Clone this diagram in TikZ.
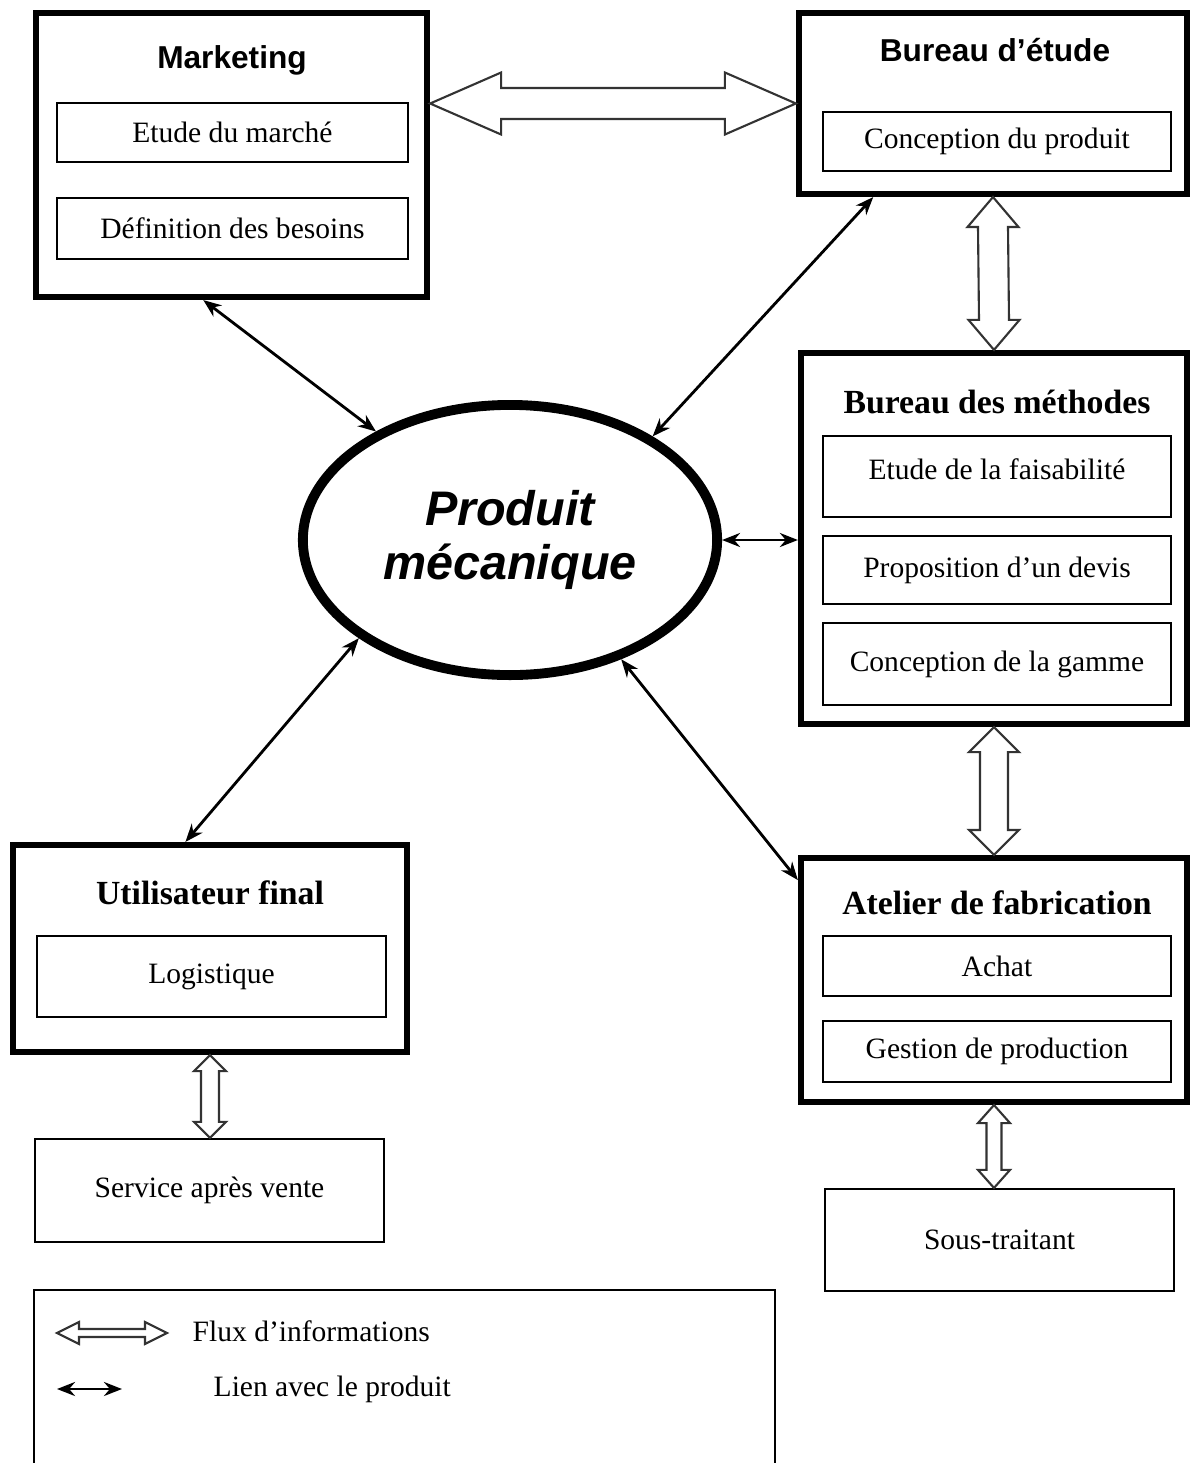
\documentclass[tikz,border=0pt]{standalone}
\usepackage{fontspec}
\setmainfont{Liberation Serif}
\newfontfamily\arialfont{Liberation Sans}
\usepackage{tikz}
\usetikzlibrary{calc}
\usetikzlibrary{arrows.meta}
\usetikzlibrary{shapes.geometric}

\newcommand{\fluxh}[5]{\draw[flux] #1 -- ++(#5,-#4) -- ++(0,#4-#3) -- ($#2+(-#5,-#3)$) -- ++(0,#3-#4) -- #2 -- ++(-#5,#4) -- ++(0,#3-#4) -- ($#1+(#5,#3)$) -- ++(0,#4-#3) -- cycle;}
\newcommand{\fluxv}[5]{\draw[flux] #1 -- ++(-#4,#5) -- ++(#4-#3,0) -- ($#2+(-#3,-#5)$) -- ++(#3-#4,0) -- #2 -- ++(#4,-#5) -- ++(#3-#4,0) -- ($#1+(#3,#5)$) -- ++(#4-#3,0) -- cycle;}

\begin{document}
\begin{tikzpicture}[x=0.01cm, y=-0.01cm,
  service/.style={draw, line width=1.7pt, inner sep=0pt},
  tache/.style={draw, line width=0.6pt, inner sep=0pt, minimum width=3.48cm, font=\fontsize{8.4}{10}\selectfont},
  titre/.style={font=\arialfont\bfseries\fontsize{9}{11}\selectfont},
  titreb/.style={font=\bfseries\fontsize{9.6}{11}\selectfont},
  legende/.style={anchor=west, inner sep=0pt, font=\fontsize{8.4}{10}\selectfont},
  lien/.style={{Stealth[length=1.8mm,width=1.4mm]}-{Stealth[length=1.8mm,width=1.4mm]}, line width=0.8pt},
  flux/.style={draw=black!80, line width=0.6pt, fill=white}]

\useasboundingbox (0,0) rectangle (1192,1463);

\node[service, minimum width=3.91cm, minimum height=2.84cm] (mkt) at (231.5,155) {};
\node[titre] (mkt-t) at (232,60) {Marketing};
\node[tache, minimum width=3.51cm, minimum height=0.59cm] (mkt1) at (232.5,132.5) {Etude du marché};
\node[tache, minimum width=3.51cm, minimum height=0.61cm] (mkt2) at (232.5,228.5) {Définition des besoins};

\node[service, minimum width=3.88cm, minimum height=1.81cm] (be) at (993,103.5) {};
\node[titre] (be-t) at (995,50) {Bureau d’étude};
\node[tache, minimum height=0.59cm] (be1) at (997,141.5) {Conception du produit};

\node[service, minimum width=3.86cm, minimum height=3.71cm] (bm) at (994,538.5) {};
\node[titreb] (bm-t) at (997,402) {Bureau des méthodes};
\node[tache, minimum height=0.81cm, text depth=4.2pt] (bm1) at (997,476.5) {Etude de la faisabilité};
\node[tache, minimum height=0.68cm] (bm2) at (997,570) {Proposition d’un devis};
\node[tache, minimum height=0.82cm] (bm3) at (997,664) {Conception de la gamme};

\node[service, minimum width=3.86cm, minimum height=2.44cm] (atl) at (994,980) {};
\node[titreb] (atl-t) at (997,903) {Atelier de fabrication};
\node[tache, minimum height=0.60cm] (atl1) at (997,966) {Achat};
\node[tache, minimum height=0.61cm] (atl2) at (997,1051.5) {Gestion de production};
\node[tache, minimum width=3.49cm, minimum height=1.02cm] (sous) at (999.5,1240) {Sous-traitant};

\node[service, minimum width=3.94cm, minimum height=2.07cm] (util) at (210,948.5) {};
\node[titreb] (util-t) at (210,893) {Utilisateur final};
\node[tache, minimum width=3.49cm, minimum height=0.81cm] (util1) at (211.5,976.5) {Logistique};
\node[tache, minimum width=3.49cm, minimum height=1.03cm] (sav) at (209.5,1190.5) {Service après vente};

\node[ellipse, draw, line width=2.8pt, minimum width=4.14cm, minimum height=2.70cm, inner sep=0pt, align=center, font=\arialfont\bfseries\itshape\fontsize{13.8}{15.5}\selectfont] (prod) at (510,540) {Produit\\mécanique};

\draw[lien] (mkt.259) -- (prod.141);
\draw[lien] (be.218) -- (prod.36);
\draw[lien] (prod.east) -- (prod.east -| bm.west);
\draw[lien] (prod.213) -- (util.103);
\draw[lien] (prod.313) -- (atl.153);

\coordinate (fl) at (mkt.east |- be.west);
\fluxh{(fl)}{(be.west)}{15.5}{31}{71}
\fluxv{(be.south)}{(bm.north)}{15}{25.5}{30}
\fluxv{(bm.south)}{(atl.north)}{14}{25}{25}
\fluxv{(atl.south)}{(atl.south |- sous.north)}{7.5}{16}{18}
\fluxv{(util.south)}{(util.south |- sav.north)}{9}{16}{16}

\draw[line width=0.6pt] (34,1475) -- (34,1290) -- (775,1290) -- (775,1475);
\coordinate (fa) at (57,1333);
\coordinate (fb) at (167,1333);
\fluxh{(fa)}{(fb)}{4}{11}{22}
\node[legende] (lf) at (192,1331) {Flux d’informations};
\coordinate (la) at (57,1389);
\coordinate (lb) at (122,1389);
\draw[lien] (la) -- (lb);
\node[legende] (ll) at (213,1389) {Lien avec le produit};

\end{tikzpicture}
\end{document}
